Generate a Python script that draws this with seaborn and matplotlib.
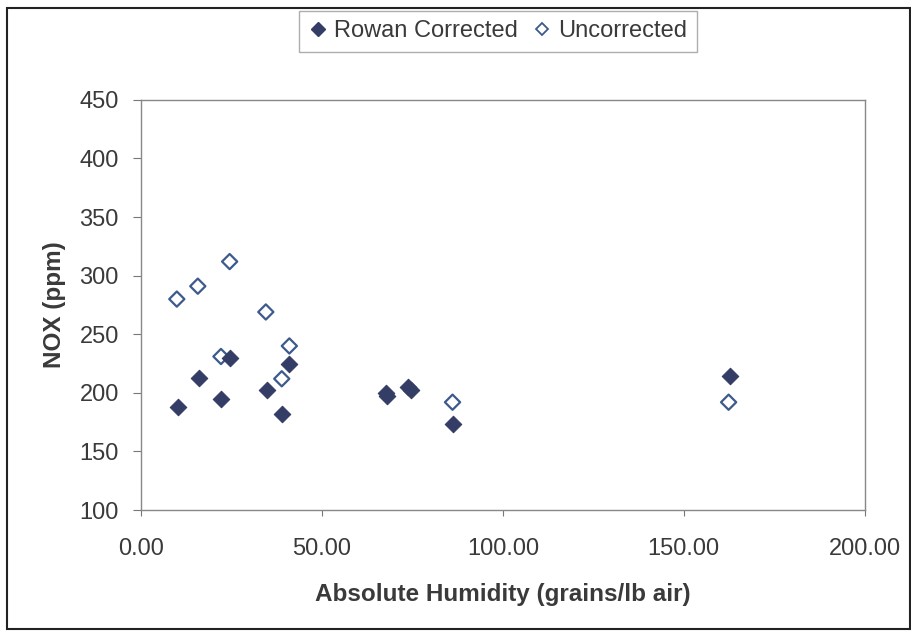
import pandas as pd
import matplotlib.pyplot as plt
import seaborn as sns
from matplotlib.patches import Rectangle
from matplotlib.lines import Line2D

# Values
corr_x = [10.1, 15.9, 22.2, 24.7, 34.8, 38.9, 41.0, 67.7, 68.0, 73.9, 74.6, 86.1, 162.7]
corr_y = [188, 213, 195, 230, 202, 182, 225, 200, 197, 205, 202, 173, 214]
unc_x = [9.9, 15.7, 22.1, 24.5, 34.5, 38.9, 41.0, 86.1, 162.4]
unc_y = [280, 291, 231, 312, 269, 212, 240, 192, 192]

x_ticks = [0, 50, 100, 150, 200]
y_ticks = [100, 150, 200, 250, 300, 350, 400, 450]

sns.set_style('white')
plt.rcParams['font.family'] = ['Liberation Sans', 'DejaVu Sans']

dark = '#333d66'
blue = '#3d5a8c'
txt = '#3a3a3a'

fig = plt.figure(figsize=(9.12, 6.32), dpi=100)
ax = fig.add_axes([0.1546, 0.193, 0.7935, 0.649])

df_c = pd.DataFrame({'x': corr_x, 'y': corr_y})
df_u = pd.DataFrame({'x': unc_x, 'y': unc_y})

sns.scatterplot(data=df_u, x='x', y='y', marker='D', s=60, facecolor='none',
                edgecolor=blue, linewidth=1.6, ax=ax)
sns.scatterplot(data=df_c, x='x', y='y', marker='D', s=70, color=dark,
                edgecolor=dark, linewidth=0.8, ax=ax, zorder=3)

ax.set_xlim(0, 200)
ax.set_ylim(100, 450)
ax.set_xticks(x_ticks)
ax.set_xticklabels([f'{v:.2f}' for v in x_ticks])
ax.set_yticks(y_ticks)
ax.tick_params(axis='both', labelsize=17, colors='#777777', labelcolor=txt,
               direction='out', bottom=True, left=True, width=0.8)
ax.tick_params(axis='x', length=4, pad=16)
ax.tick_params(axis='y', length=6, pad=10)
for sp in ax.spines.values():
    sp.set_color('#888888')
    sp.set_linewidth(1.0)

ax.set_xlabel('Absolute Humidity (grains/lb air)', fontsize=17.5,
              fontweight='bold', color=txt, labelpad=17)
ax.set_ylabel('NOX (ppm)', fontsize=17.5, fontweight='bold', color=txt,
              labelpad=10)

handles = [
    Line2D([], [], marker='D', linestyle='none', color=dark, markersize=7),
    Line2D([], [], marker='D', linestyle='none', markerfacecolor='white',
           markeredgecolor=blue, markeredgewidth=1.3, markersize=6.5),
]
leg = fig.legend(handles, ['Rowan Corrected', 'Uncorrected'], loc='upper center',
                 bbox_to_anchor=(0.546, 0.983), ncol=2, fontsize=17,
                 frameon=True, fancybox=False, handlelength=0.8,
                 handletextpad=0.3, columnspacing=0.6, borderpad=0.4,
                 borderaxespad=0)
leg.get_frame().set_edgecolor('#999999')
leg.get_frame().set_linewidth(1.0)
for t in leg.get_texts():
    t.set_color(txt)

fig.patches.append(Rectangle((0.008, 0.005), 0.99, 0.983, transform=fig.transFigure,
                             fill=False, edgecolor='#222222', linewidth=1.5))

plt.savefig('out.png', dpi=100)
